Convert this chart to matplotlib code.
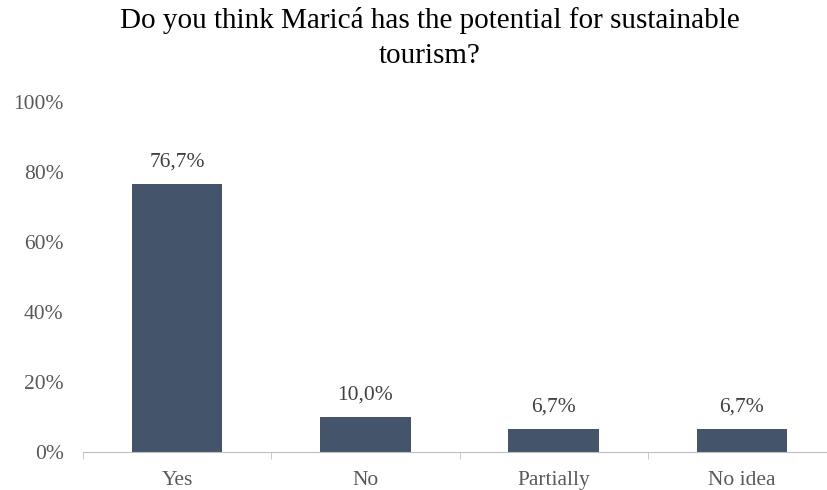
import numpy as np
import matplotlib.pyplot as plt

plt.rcParams['font.family'] = ['Liberation Serif', 'DejaVu Serif']

categories = ['Yes', 'No', 'Partially', 'No idea']
values = [76.7, 10.0, 6.7, 6.7]
labels = ['76,7%', '10,0%', '6,7%', '6,7%']
yticks = [0, 20, 40, 60, 80, 100]

fig = plt.figure(figsize=(8.27, 4.9), dpi=100)
ax = fig.add_axes([83 / 827, 38 / 490, 753 / 827, 350 / 490])

x = np.arange(len(categories))
bars = ax.bar(x, values, width=0.48, color='#44546A')

for b, lab in zip(bars, labels):
    ax.text(b.get_x() + b.get_width() / 2, b.get_height() + 3.5, lab,
            ha='center', va='bottom', fontsize=15.5, color='#404040')

ax.set_xlim(-0.5, len(categories) - 0.5)
ax.set_ylim(0, 100)
ax.set_yticks(yticks)
ax.set_yticklabels([f'{v}%' for v in yticks], fontsize=15.5, color='#595959')
ax.set_xticks(x)
ax.set_xticklabels(categories, fontsize=15.5, color='#595959')
ax.tick_params(axis='y', length=0, pad=14)
ax.tick_params(axis='x', length=0, pad=14)

# tick marks at category boundaries
ax.set_xticks(np.arange(len(categories) + 1) - 0.5, minor=True)
ax.tick_params(axis='x', which='minor', length=5, color='#BFBFBF')

for s in ['top', 'right', 'left']:
    ax.spines[s].set_visible(False)
ax.spines['bottom'].set_color('#BFBFBF')

fig.suptitle('Do you think Maricá has the potential for sustainable\ntourism?',
             x=430 / 827, y=0.985, fontsize=21, color='black', linespacing=1.45)

fig.savefig('out.png', dpi=100)
